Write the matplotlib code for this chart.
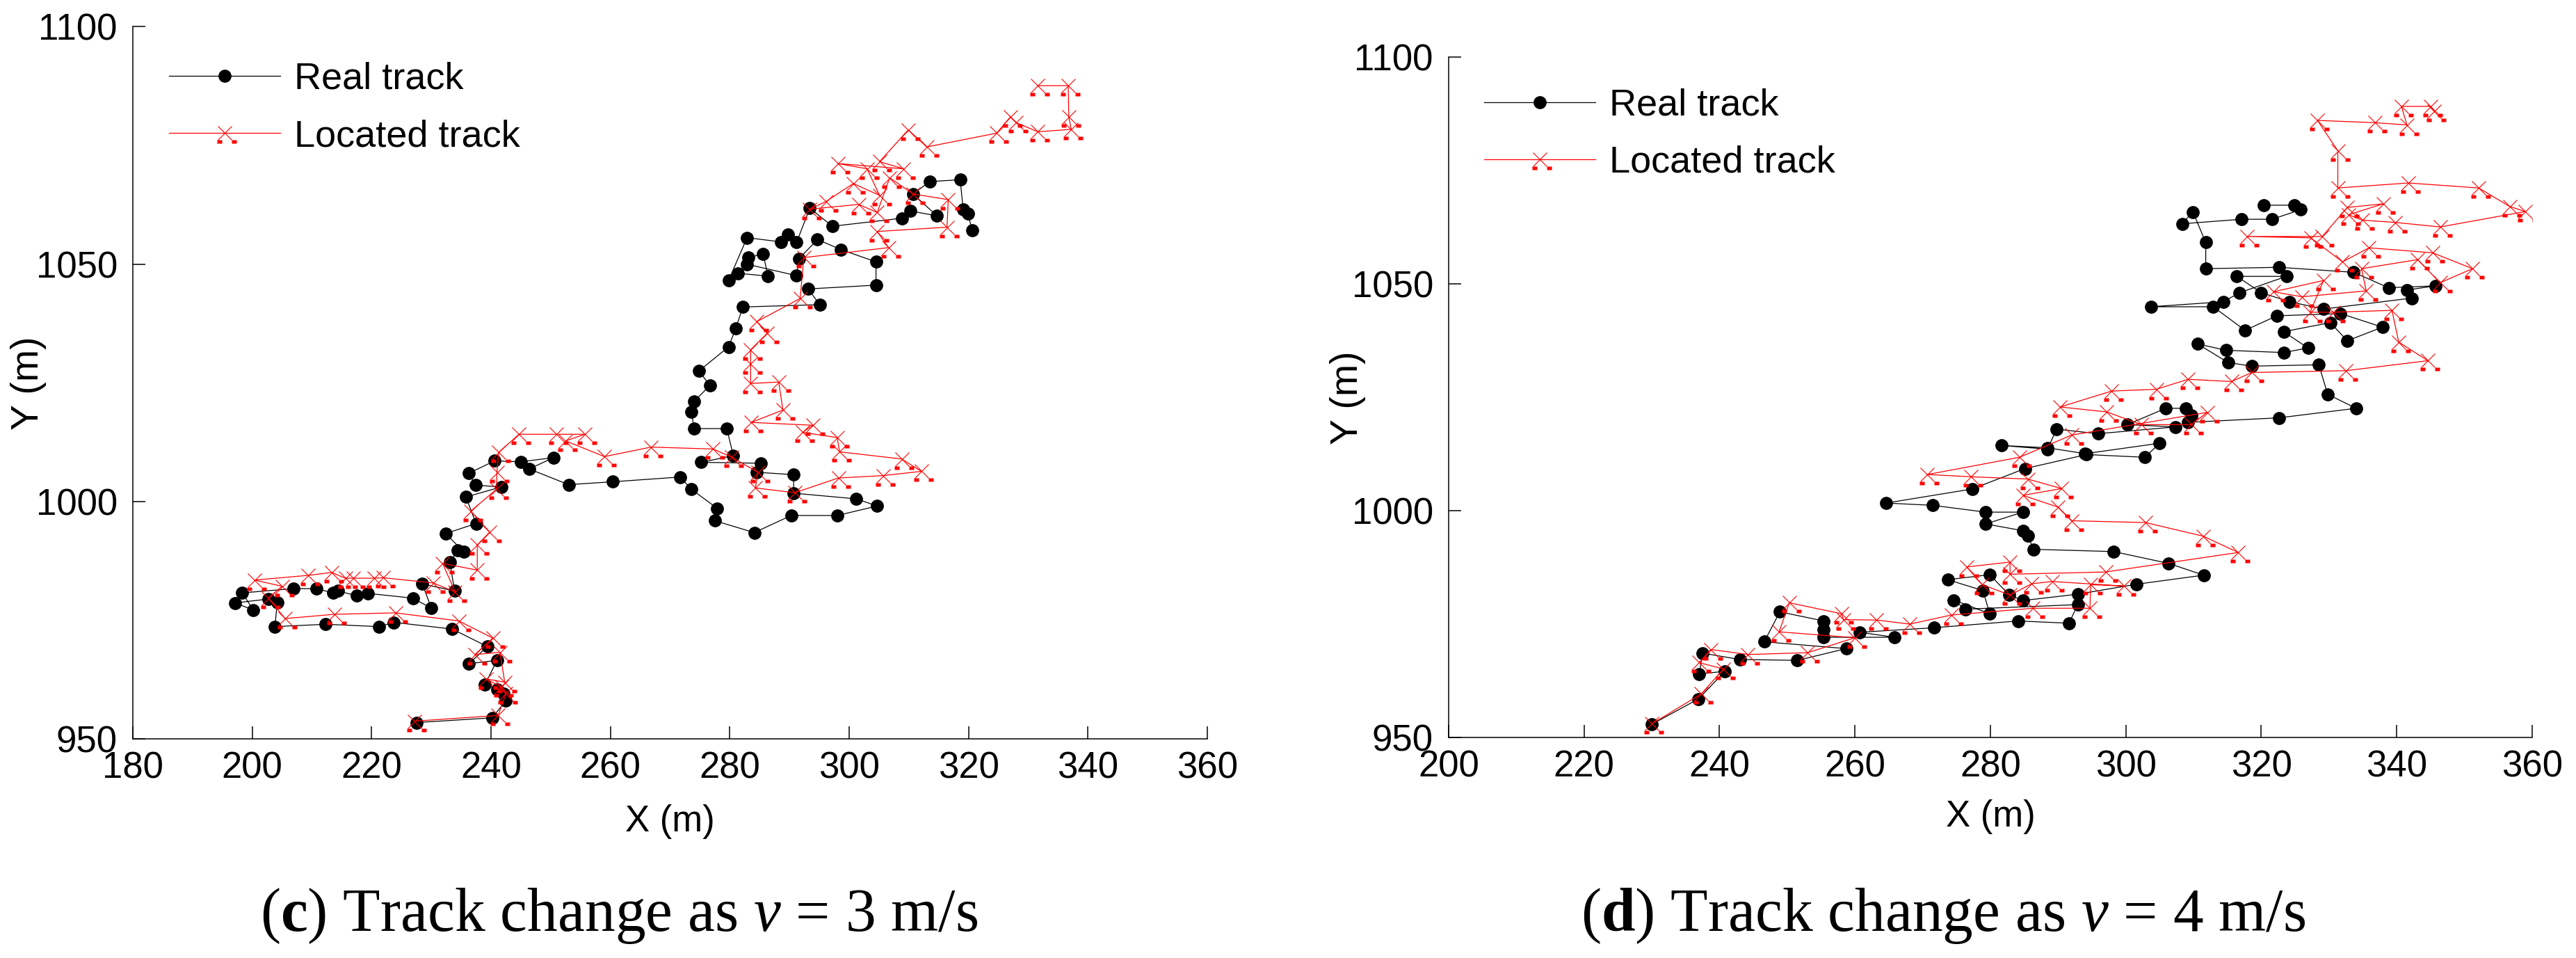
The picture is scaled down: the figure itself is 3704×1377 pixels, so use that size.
import matplotlib
matplotlib.use("Agg")
import matplotlib.pyplot as plt
from matplotlib.path import Path
from matplotlib.legend_handler import HandlerTuple
from matplotlib.lines import Line2D

plt.rcParams['font.family'] = ['Liberation Sans', 'DejaVu Sans']
plt.rcParams['mathtext.fontset'] = 'custom'
plt.rcParams['mathtext.rm'] = 'Liberation Serif'
plt.rcParams['mathtext.it'] = 'Liberation Serif:italic'
plt.rcParams['mathtext.bf'] = 'Liberation Serif:bold'

# ---- data ----
# (c) v = 3 m/s
real_c_x = [227.5, 240.2, 242.5, 242.1, 241.0, 239.0, 241.0, 236.3, 239.4, 233.5,
            223.7, 221.3, 212.3, 203.8, 204.2, 202.7, 197.1, 200.2, 198.3, 206.9,
            210.8, 213.5, 214.4, 217.5, 219.4, 226.9, 230.0, 228.5, 233.9, 233.1,
            234.4, 235.4, 232.4, 237.5, 235.8, 241.7, 237.4, 236.3, 240.6, 245.0,
            250.5, 246.4, 253.0, 260.4, 271.7, 273.6, 277.9, 277.5, 284.1, 290.3,
            298.0, 304.7, 301.2, 290.7, 290.7, 284.5, 285.2, 275.2, 280.6, 279.5,
            274.0, 273.6, 274.0, 276.7, 274.8, 279.8, 281.0, 282.2, 295.1, 293.1,
            304.5, 304.5, 298.6, 294.7, 291.6, 291.2, 282.9, 283.1, 285.6, 286.4,
            281.4, 279.8, 282.9, 288.6, 289.7, 291.2, 293.4, 297.2, 308.9, 310.3,
            314.7, 310.7, 313.5, 318.6, 319.1, 319.9, 320.6]
real_c_y = [953.5, 954.5, 958.1, 959.6, 960.5, 961.5, 966.6, 965.9, 969.5, 973.2,
            974.6, 973.7, 974.2, 973.7, 978.8, 979.5, 978.7, 977.2, 980.8, 981.7,
            981.7, 980.8, 981.2, 980.2, 980.7, 979.7, 977.6, 982.7, 981.2, 987.3,
            989.7, 989.5, 993.3, 995.4, 1001.0, 1003.1, 1003.5, 1006.0, 1008.6, 1008.4,
            1009.3, 1006.9, 1003.6, 1004.2, 1005.2, 1002.6, 998.6, 996.0, 993.5, 997.1,
            997.1, 999.1, 1000.6, 1001.8, 1005.7, 1006.2, 1008.1, 1008.3, 1009.7, 1015.4,
            1015.4, 1018.9, 1021.1, 1024.5, 1027.5, 1032.6, 1036.5, 1041.0, 1041.5, 1044.8,
            1045.6, 1050.5, 1053.1, 1055.2, 1051.2, 1047.6, 1050.0, 1051.5, 1052.1, 1047.5,
            1048.1, 1046.6, 1055.6, 1054.7, 1056.3, 1054.6, 1061.8, 1058.0, 1059.7, 1061.2,
            1060.2, 1064.8, 1067.4, 1067.8, 1061.6, 1060.6, 1057.2]

loc_c_x = [227.2, 241.2, 242.5, 241.7, 239.2, 242.3, 241.5, 237.3, 240.3, 234.6,
           224.0, 213.8, 205.5, 202.7, 205.0, 200.4, 209.4, 213.3, 215.6, 216.9,
           220.4, 221.9, 230.3, 234.0, 231.9, 237.7, 237.7, 239.8, 236.6, 240.9,
           241.0, 241.3, 244.7, 250.9, 255.7, 252.5, 259.0, 266.8, 277.2, 280.3,
           284.7, 284.3, 290.9, 298.2, 305.7, 312.1, 308.8, 298.4, 298.0, 292.2,
           293.9, 283.6, 288.9, 288.2, 283.5, 283.5, 283.5, 286.3, 284.5, 291.8,
           292.4, 306.6, 304.7, 316.4, 316.6, 310.7, 306.8, 304.7, 301.6, 293.4,
           296.1, 300.7, 305.1, 303.0, 298.1, 309.1, 305.1, 309.9, 313.0, 324.7,
           327.0, 328.0, 331.6, 337.2, 336.8, 336.7, 331.6]
loc_c_y = [953.8, 955.0, 959.6, 961.0, 962.7, 962.0, 968.3, 967.8, 971.3, 974.9,
           976.6, 976.3, 975.4, 979.7, 982.2, 983.5, 984.5, 985.1, 983.9, 983.9,
           983.9, 984.0, 982.9, 981.0, 987.0, 985.6, 990.9, 993.6, 998.0, 1002.6,
           1006.2, 1010.4, 1014.2, 1014.2, 1014.2, 1012.8, 1009.5, 1011.5, 1011.1, 1009.4,
           1006.2, 1002.9, 1001.9, 1005.0, 1005.5, 1006.4, 1009.0, 1010.5, 1013.5, 1014.6,
           1016.1, 1016.7, 1019.3, 1025.2, 1024.9, 1029.1, 1032.0, 1035.5, 1037.9, 1042.8,
           1051.4, 1053.5, 1056.9, 1057.8, 1063.6, 1064.8, 1068.2, 1060.9, 1062.6, 1061.6,
           1063.2, 1067.0, 1064.5, 1070.1, 1071.2, 1070.1, 1071.6, 1078.3, 1074.7, 1077.6,
           1081.0, 1079.8, 1077.9, 1078.4, 1081.0, 1087.6, 1087.6]

# (d) v = 4 m/s
real_d_x = [230.0, 236.9, 240.8, 237.0, 237.5, 243.0, 251.5, 258.7, 246.6, 248.9,
            255.4, 255.4, 255.4, 265.8, 260.7, 271.7, 284.1, 291.6, 292.9, 276.3,
            274.6, 279.9, 278.9, 273.7, 279.9, 282.8, 284.8, 292.9, 301.6, 311.5,
            306.3, 298.2, 286.4, 285.5, 284.8, 279.3, 284.8, 279.3, 271.5, 264.6,
            277.3, 285.1, 294.2, 302.8, 305.0, 294.0, 288.4, 281.6, 288.4, 289.8,
            295.9, 307.3, 300.2, 305.9, 308.9, 309.7, 309.2, 322.6, 334.0, 329.8,
            328.5, 318.6, 315.1, 310.6, 314.8, 323.3, 326.9, 323.3, 330.2, 332.7,
            337.9, 331.7, 322.3, 317.6, 312.9, 303.7, 314.4, 316.8, 323.7, 316.4,
            320.0, 324.2, 329.2, 342.2, 341.5, 345.7, 338.8, 333.6, 322.6, 311.8,
            311.8, 309.9, 308.3, 317.1, 321.6, 325.8, 324.9, 320.4]
real_d_y = [952.9, 958.5, 964.6, 964.0, 968.6, 967.2, 967.0, 969.6, 971.1, 977.7,
            975.7, 973.8, 972.1, 972.1, 973.2, 974.2, 975.7, 975.2, 979.3, 978.3,
            980.3, 977.3, 982.4, 984.8, 985.9, 981.4, 980.2, 981.6, 983.8, 985.8,
            988.4, 991.0, 991.5, 994.5, 995.6, 997.1, 999.7, 999.7, 1001.2, 1001.7,
            1004.8, 1009.3, 1012.4, 1011.8, 1014.9, 1012.6, 1013.9, 1014.4, 1013.6, 1018.0,
            1017.0, 1018.5, 1019.0, 1022.6, 1022.6, 1021.1, 1019.5, 1020.5, 1022.6, 1025.7,
            1032.2, 1031.9, 1032.7, 1036.8, 1035.4, 1034.9, 1035.9, 1039.5, 1041.5, 1037.5,
            1040.5, 1043.5, 1043.0, 1039.8, 1045.0, 1045.0, 1046.1, 1048.1, 1051.7, 1051.7,
            1048.1, 1046.1, 1044.5, 1046.9, 1048.7, 1049.6, 1049.2, 1052.6, 1053.7, 1053.4,
            1059.2, 1065.9, 1063.3, 1064.3, 1064.3, 1066.4, 1067.4, 1067.4]

loc_d_x = [230.0, 237.3, 240.6, 237.0, 238.7, 244.2, 253.0, 260.0, 248.8, 250.3,
           258.0, 258.3, 263.2, 268.1, 274.2, 286.3, 294.7, 294.8, 299.7, 289.1,
           286.1, 282.9, 278.8, 276.5, 282.9, 282.9, 297.0, 316.6, 311.4, 302.9,
           292.0, 290.0, 284.8, 290.5, 285.5, 277.1, 270.7, 284.3, 292.0, 312.0,
           309.7, 302.3, 297.2, 290.3, 297.9, 304.5, 309.2, 315.6, 318.6, 332.5,
           344.6, 340.3, 339.3, 330.6, 327.2, 329.2, 321.8, 326.0, 335.5, 334.8,
           343.1, 346.4, 351.2, 345.3, 335.9, 332.0, 327.3, 317.9, 329.0, 332.7,
           338.0, 332.9, 334.9, 339.8, 346.4, 359.0, 356.7, 352.1, 341.7, 331.3,
           331.3, 328.3, 336.8, 341.5, 340.7, 345.0, 345.5]
loc_d_y = [953.0, 959.6, 965.1, 966.5, 969.4, 968.3, 968.7, 972.0, 973.3, 979.7,
           977.3, 976.0, 975.9, 975.0, 977.0, 978.5, 978.5, 983.7, 983.4, 984.4,
           983.9, 981.4, 983.7, 987.6, 988.7, 986.0, 986.5, 990.8, 994.4, 997.4,
           997.8, 1000.8, 1003.4, 1004.9, 1007.0, 1007.5, 1008.0, 1011.8, 1016.7, 1021.7,
           1019.0, 1019.0, 1021.8, 1022.9, 1026.4, 1026.8, 1029.0, 1028.5, 1030.5, 1030.9,
           1033.1, 1037.2, 1044.2, 1043.8, 1043.8, 1050.8, 1048.3, 1047.2, 1048.5, 1053.4,
           1055.4, 1050.3, 1053.4, 1056.9, 1058.0, 1054.9, 1060.2, 1060.5, 1060.5, 1066.9,
           1067.7, 1065.3, 1064.1, 1063.6, 1062.6, 1066.0, 1067.1, 1071.2, 1072.3, 1071.2,
           1079.4, 1086.1, 1085.6, 1085.1, 1089.2, 1089.2, 1088.1]

y_ticks = [950, 1000, 1050, 1100]
x_ticks_c = list(range(180, 361, 20))
x_ticks_d = list(range(200, 361, 20))


def squares_marker():
    # the two little filled squares drawn under each x marker in the original
    verts, codes = [], []
    for cx in (-0.7, 1.3):
        cy, w, h = -1.2, 0.35, 0.2
        verts += [(cx - w, cy - h), (cx + w, cy - h), (cx + w, cy + h),
                  (cx - w, cy + h), (cx - w, cy - h)]
        codes += [Path.MOVETO, Path.LINETO, Path.LINETO, Path.LINETO, Path.CLOSEPOLY]
    return Path(verts, codes)


SQ = squares_marker()
MS_X = 15
MS_SQ = MS_X * 1.65


def draw_panel(ax, rx, ry, lx, ly, xticks, xlim, leg_xy, caption, cap_x):
    ax.plot(rx, ry, color='black', lw=0.9, marker='o', ms=12.5,
            mfc='black', mec='black', zorder=3)
    ax.plot(lx, ly, color='red', lw=0.9, marker='x', ms=MS_X, mew=0.8, zorder=4)
    ax.plot(lx, ly, ls='none', marker=SQ, ms=MS_SQ, mfc='red', mec='none', zorder=4)

    ax.set_xlim(*xlim)
    ax.set_ylim(950, 1100)
    ax.set_xticks(xticks)
    ax.set_yticks(y_ticks)
    for s in ('top', 'right'):
        ax.spines[s].set_visible(False)
    for s in ('left', 'bottom'):
        ax.spines[s].set_linewidth(1.1)
    ax.tick_params(direction='in', length=13, width=1.1, labelsize=38)
    ax.tick_params(axis='x', pad=12.5)
    ax.tick_params(axis='y', pad=16)

    ax.set_xlabel('X (m)', fontsize=38, va='center')
    ax.set_ylabel('Y (m)', fontsize=40, va='center', ha='center')

    h_real = Line2D([], [], color='black', lw=0.9, marker='o', ms=12.5)
    h_x = Line2D([], [], color='red', lw=0.9, marker='x', ms=MS_X, mew=0.8)
    h_sq = Line2D([], [], ls='none', marker=SQ, ms=MS_SQ, mfc='red', mec='none')
    ax.legend([h_real, (h_x, h_sq)], ['Real track', 'Located track'],
              handler_map={tuple: HandlerTuple(ndivide=1)},
              loc='upper left', bbox_to_anchor=leg_xy, frameon=False,
              fontsize=39, handlelength=2.96, handletextpad=0.37,
              labelspacing=0.6, borderpad=0, borderaxespad=0)

    ax.figure.text(cap_x, 0.0283, caption, fontsize=63, ha='center',
                   va='baseline', family='Liberation Serif')


fig = plt.figure(figsize=(37.05, 13.77), dpi=100)
ax_c = fig.add_axes([0.05155, 0.22840, 0.41700, 0.74365])
ax_d = fig.add_axes([0.56221, 0.23021, 0.42051, 0.70988])

draw_panel(ax_c, real_c_x, real_c_y, loc_c_x, loc_c_y, x_ticks_c, (180, 360),
           (0.0337, 0.951), r'($\mathbf{c}$) Track change as $\mathit{v}$ = 3 m/s', 0.2402)
draw_panel(ax_d, real_d_x, real_d_y, loc_d_x, loc_d_y, x_ticks_d, (200, 360),
           (0.0327, 0.955), r'($\mathbf{d}$) Track change as $\mathit{v}$ = 4 m/s', 0.7541)

ax_c.xaxis.set_label_coords(0.5, -0.1157)
ax_c.yaxis.set_label_coords(-0.0971, 0.5)
ax_d.xaxis.set_label_coords(0.5, -0.1166)
ax_d.yaxis.set_label_coords(-0.0931, 0.5)

fig.savefig('out.png', dpi=100)
